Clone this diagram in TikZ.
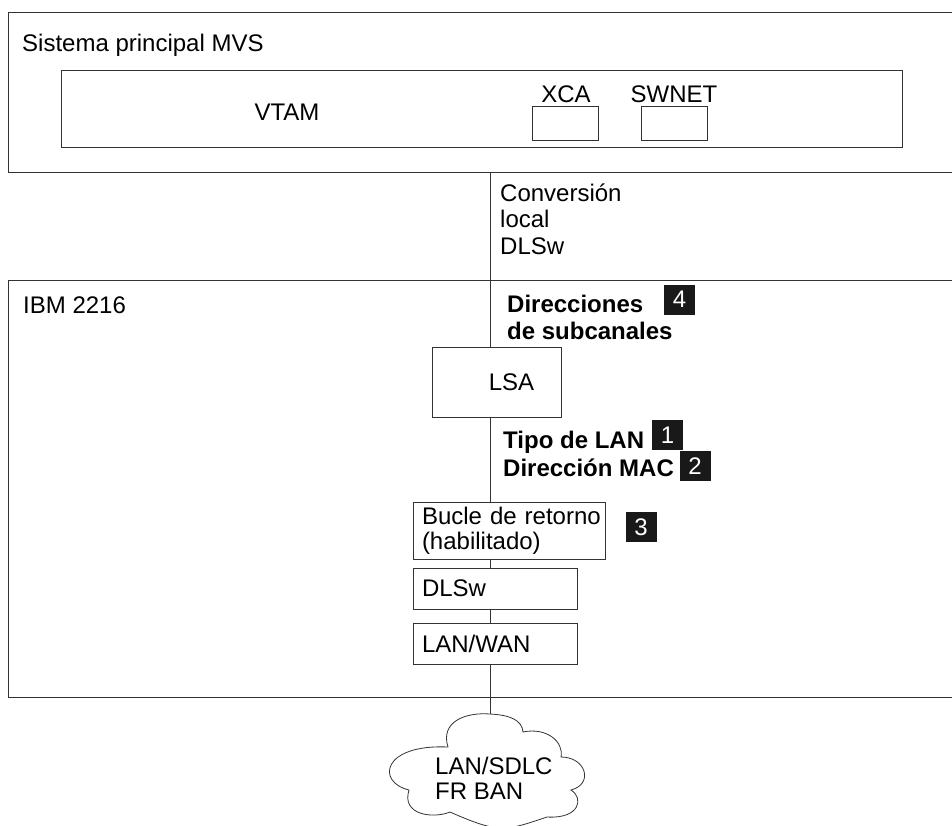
\documentclass[tikz,border=0pt]{standalone}
\usepackage{fontspec}
\setmainfont{Liberation Sans}
\usetikzlibrary{positioning,calc}
\tikzset{
    box/.style={draw=black!80, line width=1pt, inner sep=0pt},
    txtbox/.style n args={2}{box, minimum width=#1, minimum height=#2, text width=#1-18pt, inner xsep=9pt, align=left},
    badge/.style={fill=black!90, text=white, minimum width=31pt, minimum height=30pt, inner sep=0pt},
    lbl/.style={anchor=base west, inner sep=0pt, align=left},
    wire/.style={draw=black!80, line width=1pt}
}

\begin{document}
\begin{tikzpicture}[x=1pt, y=-1pt]
    \def \sx {490}
    \tikzstyle{every node}=[font=\fontsize{24}{27}\selectfont];
    \path[use as bounding box, clip] (0,0) rectangle (952,825);
    % host side
    \node[box, anchor=north west, minimum width=960, minimum height=160] (host) at (8,12) {};
    \node[lbl] (hostname) at (22,51) {Sistema principal MVS};
    \node[box, anchor=north west, minimum width=841, minimum height=77] (vtam) at (61,70) {};
    \node[anchor=base, inner sep=0pt] (vtamname) at (287,120) {VTAM};
    \node[box, minimum width=66, minimum height=34] (xca) at (565,123) {};
    \node[box, minimum width=66, minimum height=34] (swnet) at (674.5,123) {};
    \node[anchor=base, inner sep=0pt] (xcaname) at (566,102) {XCA};
    \node[anchor=base, inner sep=0pt] (swnetname) at (674,102) {SWNET};
    \node[lbl, font=\fontsize{24}{26.5}\selectfont] (conv) at (500,254) {Conversión\\local\\DLSw};
    % 2216
    \node[box, anchor=north west, minimum width=960, minimum height=417] (ibm) at (8,280) {};
    \node[lbl] (ibmname) at (23,313) {IBM 2216};
    \node[lbl, font=\fontsize{24}{27}\selectfont\bfseries] (subch) at (507,339) {Direcciones\\de subcanales};
    \node[box, minimum width=129, minimum height=70, label={[xshift=15pt]center:LSA}] (lsa) at (496.5,382) {};
    \node[lbl, font=\fontsize{24}{28}\selectfont\bfseries] (lantype) at (503,476) {Tipo de LAN\\Dirección MAC};
    \node[txtbox={192pt}{57pt}, font=\fontsize{24}{25}\selectfont] (bucle) at (509,530.5) {\mbox{Bucle de retorno}\\(habilitado)};
    \node[txtbox={164pt}{41pt}] (dlsw) at (495,588.5) {DLSw};
    \node[txtbox={164pt}{41pt}] (lanwan) at (495,643.5) {LAN/WAN};
    \node[badge] (b4) at (679.5,299.5) {4};
    \node[badge] (b1) at (667.5,435) {1};
    \node[badge] (b2) at (695,466) {2};
    \node[badge] (b3) at (641,527) {3};
    % network
    \coordinate (sp) at (\sx,0);
    \coordinate (cloudtop) at (490,714);
    \draw[wire, line width=0.8pt] (448,747) .. controls (440,722) and (465,712) .. (cloudtop)
        .. controls (510,715) and (522,720) .. (523,732)
        .. controls (547,727) and (564,742) .. (561,757)
        .. controls (586,757) and (594,784) .. (571,790)
        .. controls (584,798) and (580,819) .. (547,817)
        .. controls (505,831) and (500,834) .. (450,812)
        .. controls (433,819) and (401,815) .. (409,790)
        .. controls (376,782) and (382,744) .. cycle;
    \node[lbl, font=\fontsize{24}{25}\selectfont] (net) at (435,799) {LAN/SDLC\\FR BAN};
    \draw[wire] (host.south -| sp) -- (lsa.north -| sp);
    \draw[wire] (lsa.south -| sp) -- (bucle.north -| sp);
    \draw[wire] (bucle.south -| sp) -- (dlsw.north -| sp);
    \draw[wire] (dlsw.south -| sp) -- (lanwan.north -| sp);
    \draw[wire] (lanwan.south -| sp) -- (cloudtop);
\end{tikzpicture}
\end{document}
